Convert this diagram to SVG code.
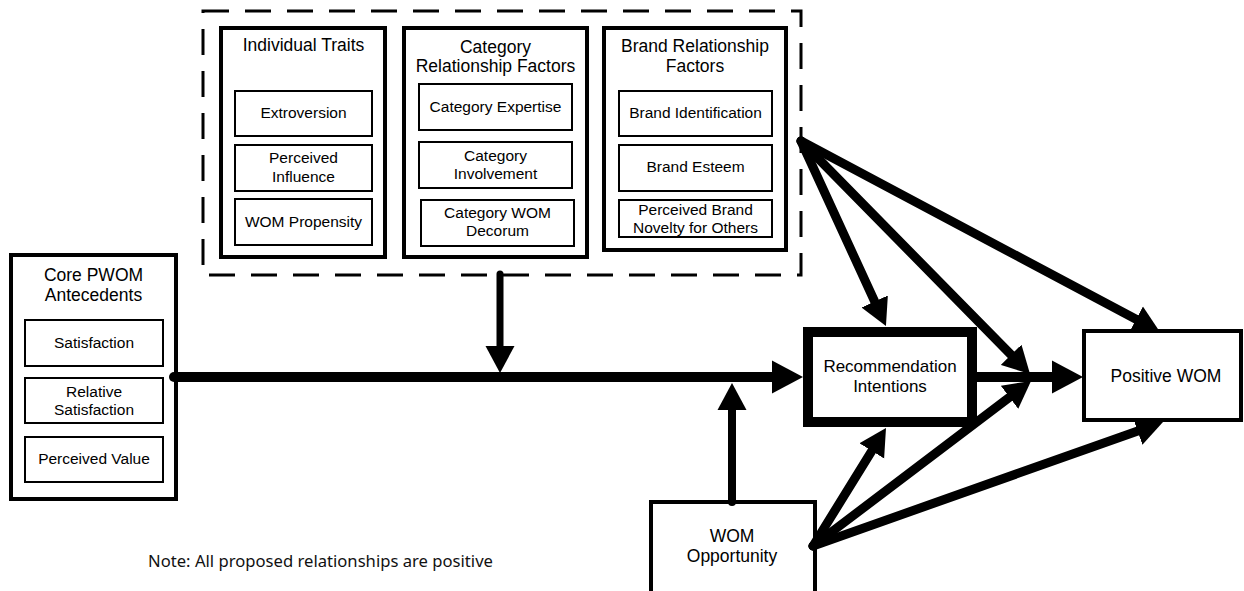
<svg xmlns="http://www.w3.org/2000/svg" width="1244" height="591" viewBox="0 0 1244 591">
  <style>
    .group { fill: #fff; stroke: #000; stroke-width: 4; }
    .item { fill: #fff; stroke: #000; stroke-width: 2; }
    .title { font-family: "Liberation Sans", Arial, sans-serif; font-size: 17.5px; fill: #000; text-anchor: middle; }
    .label { font-family: "Liberation Sans", Arial, sans-serif; font-size: 15.5px; fill: #000; text-anchor: middle; }
    .note { font-family: "Noto Sans", "Open Sans", sans-serif; font-size: 16.5px; fill: #111; }
    .link { fill: none; stroke: #000; stroke-linecap: round; }
  </style>
  <defs>
    <marker id="headBig" viewBox="0 -17 32 34" refX="1" refY="0" markerWidth="32" markerHeight="34" markerUnits="userSpaceOnUse" orient="auto">
      <path d="M0,-16.5 L31,0 L0,16.5 Z" fill="#000"/>
    </marker>
    <marker id="headMid" viewBox="0 -15 28 30" refX="1" refY="0" markerWidth="28" markerHeight="30" markerUnits="userSpaceOnUse" orient="auto">
      <path d="M0,-14.5 L27,0 L0,14.5 Z" fill="#000"/>
    </marker>
  </defs>

  <rect width="1244" height="591" fill="#fff"/>

  <!-- moderator cluster outline -->
  <rect id="moderators" x="203" y="11" width="598" height="264" fill="none" stroke="#000" stroke-width="3" stroke-dasharray="26 16"/>

  <g id="individual-traits">
    <rect class="group" x="221" y="28" width="164" height="229"/>
    <text class="title" x="303.5" y="51">Individual Traits</text>
    <rect class="item" x="235" y="91" width="137" height="45"/>
    <text class="label" x="303.5" y="118">Extroversion</text>
    <rect class="item" x="235" y="145" width="137" height="46"/>
    <text class="label" x="303.5" y="163">Perceived</text>
    <text class="label" x="303.5" y="182">Influence</text>
    <rect class="item" x="235" y="199" width="137" height="46"/>
    <text class="label" x="303.5" y="227">WOM Propensity</text>
  </g>

  <g id="category-factors">
    <rect class="group" x="404" y="28" width="183" height="229"/>
    <text class="title" x="495.5" y="53">Category</text>
    <text class="title" x="495.5" y="72">Relationship Factors</text>
    <rect class="item" x="419" y="84" width="153" height="46"/>
    <text class="label" x="495.5" y="112">Category Expertise</text>
    <rect class="item" x="419" y="142" width="153" height="46"/>
    <text class="label" x="495.5" y="161">Category</text>
    <text class="label" x="495.5" y="179">Involvement</text>
    <rect class="item" x="421" y="200" width="153" height="46"/>
    <text class="label" x="497.5" y="218">Category WOM</text>
    <text class="label" x="497.5" y="236">Decorum</text>
  </g>

  <g id="brand-factors">
    <rect class="group" x="604" y="28" width="182" height="222"/>
    <text class="title" x="695" y="52">Brand Relationship</text>
    <text class="title" x="695" y="72">Factors</text>
    <rect class="item" x="619" y="91" width="153" height="45"/>
    <text class="label" x="695.5" y="118">Brand Identification</text>
    <rect class="item" x="619" y="145" width="153" height="46"/>
    <text class="label" x="695.5" y="172">Brand Esteem</text>
    <rect class="item" x="619" y="200" width="153" height="37"/>
    <text class="label" x="695.5" y="215">Perceived Brand</text>
    <text class="label" x="695.5" y="233">Novelty for Others</text>
  </g>

  <g id="core-antecedents">
    <rect class="group" x="11" y="255" width="165" height="244"/>
    <text class="title" x="93.5" y="281">Core PWOM</text>
    <text class="title" x="93.5" y="301">Antecedents</text>
    <rect class="item" x="25" y="320" width="138" height="46"/>
    <text class="label" x="94" y="348">Satisfaction</text>
    <rect class="item" x="25" y="378" width="138" height="45"/>
    <text class="label" x="94" y="397">Relative</text>
    <text class="label" x="94" y="415">Satisfaction</text>
    <rect class="item" x="25" y="437" width="138" height="45"/>
    <text class="label" x="94" y="464">Perceived Value</text>
  </g>

  <g id="wom-opportunity">
    <rect class="group" x="651" y="502" width="164" height="100"/>
    <text class="title" x="732" y="542">WOM</text>
    <text class="title" x="732" y="562">Opportunity</text>
  </g>

  <g id="connectors">
    <!-- core antecedents to recommendation intentions -->
    <line class="link" x1="174" y1="377" x2="773" y2="377" stroke-width="10" marker-end="url(#headBig)"/>
    <!-- moderators onto the main path -->
    <line class="link" x1="500" y1="274" x2="500" y2="347" stroke-width="7" marker-end="url(#headMid)"/>
    <!-- opportunity onto the main path -->
    <line class="link" x1="732" y1="502" x2="732" y2="409" stroke-width="8" marker-end="url(#headMid)"/>
    <!-- intentions to positive WOM -->
    <line class="link" x1="977" y1="377" x2="1053" y2="377" stroke-width="10" marker-end="url(#headBig)"/>
    <!-- brand relationship factors fan -->
    <line class="link" x1="801" y1="141" x2="875.1" y2="302.4" stroke-width="9" marker-end="url(#headMid)"/>
    <line class="link" x1="801" y1="141" x2="1011.8" y2="355.5" stroke-width="9" marker-end="url(#headMid)"/>
    <line class="link" x1="801" y1="141" x2="1137" y2="319.8" stroke-width="9" marker-end="url(#headMid)"/>
    <!-- WOM opportunity fan -->
    <line class="link" x1="813" y1="546" x2="872.3" y2="450.1" stroke-width="9" marker-end="url(#headMid)"/>
    <line class="link" x1="813" y1="546" x2="1010.3" y2="396.7" stroke-width="9" marker-end="url(#headMid)"/>
    <line class="link" x1="813" y1="546" x2="1138.5" y2="430.7" stroke-width="9" marker-end="url(#headMid)"/>
  </g>

  <g id="recommendation-intentions">
    <rect x="808" y="332" width="164" height="90" fill="#fff" stroke="#000" stroke-width="10"/>
    <text class="title" x="890" y="372" style="font-size:17px">Recommendation</text>
    <text class="title" x="890" y="392" style="font-size:17px">Intentions</text>
  </g>

  <g id="positive-wom">
    <rect class="group" x="1084" y="331" width="157" height="89"/>
    <text class="title" x="1166" y="382">Positive WOM</text>
  </g>

  <g id="note">
    <text class="note" x="148" y="567" textLength="345" lengthAdjust="spacingAndGlyphs">Note: All proposed relationships are positive</text>
  </g>
</svg>
